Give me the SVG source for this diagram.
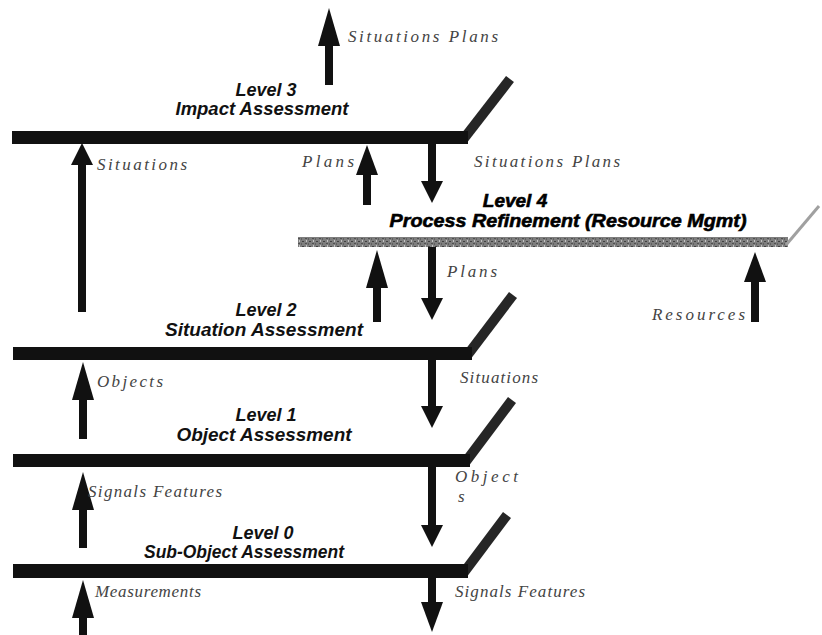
<svg xmlns="http://www.w3.org/2000/svg" width="822" height="635" viewBox="0 0 822 635">
<style>
  .bar { fill: #111; }
  .diag { stroke: #262626; stroke-width: 10; fill: none; }
  .lvl { font-family: "Liberation Sans", Arial, sans-serif; font-weight: bold; font-style: italic; font-size: 18px; fill: #111; text-anchor: middle; }
  .lvl4 { font-family: "Liberation Sans", Arial, sans-serif; font-weight: bold; font-style: italic; font-size: 19px; fill: #000; stroke: #000; stroke-width: 0.6; text-anchor: middle; }
  .lbl { font-family: "Liberation Serif", "Times New Roman", serif; font-style: italic; font-size: 17px; fill: #444; }
  .shaft { stroke: #111; stroke-width: 8; fill: none; }
</style>
<defs>
  <marker id="headS" markerUnits="userSpaceOnUse" markerWidth="22" markerHeight="22" refX="0" refY="11" orient="auto" viewBox="0 0 22 22">
    <path d="M0,0 L22,11 L0,22 z" fill="#111"/>
  </marker>
  <marker id="headM" markerUnits="userSpaceOnUse" markerWidth="30" markerHeight="22" refX="0" refY="11" orient="auto" viewBox="0 0 30 22">
    <path d="M0,0 L30,11 L0,22 z" fill="#111"/>
  </marker>
  <marker id="headL" markerUnits="userSpaceOnUse" markerWidth="38" markerHeight="22" refX="0" refY="11" orient="auto" viewBox="0 0 38 22">
    <path d="M0,0 L38,11 L0,22 z" fill="#111"/>
  </marker>
  <pattern id="grain" width="7" height="5" patternUnits="userSpaceOnUse">
    <rect width="7" height="5" fill="#7e7e7e"/>
    <rect x="1" y="1" width="2" height="1" fill="#404040"/>
    <rect x="4" y="3" width="2" height="1" fill="#505050"/>
    <rect x="5" y="0" width="1" height="2" fill="#c4c4c4"/>
    <rect x="0" y="3" width="1" height="2" fill="#606060"/>
  </pattern>
</defs>

<g id="level3">
  <line class="diag" x1="462" y1="141" x2="510" y2="79"/>
  <rect class="bar" x="12" y="131" width="456" height="13"/>
  <text class="lvl" x="266" y="96">Level 3</text>
  <text class="lvl" x="262" y="115" textLength="173" lengthAdjust="spacingAndGlyphs">Impact Assessment</text>
</g>

<g id="level4">
  <rect x="298" y="237" width="490" height="10" fill="url(#grain)"/>
  <line x1="786" y1="245" x2="819" y2="206" stroke="#a0a0a0" stroke-width="3"/>
  <text class="lvl4" x="515" y="207">Level 4</text>
  <text class="lvl4" x="568" y="227" textLength="357" lengthAdjust="spacingAndGlyphs">Process Refinement (Resource Mgmt)</text>
</g>

<g id="level2">
  <line class="diag" x1="466" y1="357" x2="513" y2="295"/>
  <rect class="bar" x="13" y="347" width="459" height="13"/>
  <text class="lvl" x="266" y="316">Level 2</text>
  <text class="lvl" x="264" y="336" textLength="198" lengthAdjust="spacingAndGlyphs">Situation Assessment</text>
</g>

<g id="level1">
  <line class="diag" x1="464" y1="464" x2="512" y2="400"/>
  <rect class="bar" x="13" y="454" width="457" height="13"/>
  <text class="lvl" x="266" y="421">Level 1</text>
  <text class="lvl" x="264" y="441" textLength="175" lengthAdjust="spacingAndGlyphs">Object Assessment</text>
</g>

<g id="level0">
  <line class="diag" x1="462" y1="575" x2="507" y2="515"/>
  <rect class="bar" x="13" y="564" width="455" height="14"/>
  <text class="lvl" x="263" y="539">Level 0</text>
  <text class="lvl" x="244" y="558" textLength="200" lengthAdjust="spacingAndGlyphs">Sub-Object Assessment</text>
</g>

<g id="connectors">
  <line class="shaft" x1="329" y1="85" x2="329" y2="46" marker-end="url(#headL)"/>
  <line class="shaft" x1="82" y1="312" x2="82" y2="165" marker-end="url(#headS)"/>
  <line class="shaft" x1="367" y1="205" x2="367" y2="175" marker-end="url(#headM)"/>
  <line class="shaft" x1="432" y1="144" x2="432" y2="181" marker-end="url(#headS)"/>
  <line class="shaft" x1="377" y1="322" x2="377" y2="288" marker-end="url(#headL)"/>
  <line class="shaft" x1="432" y1="247" x2="432" y2="298" marker-end="url(#headS)"/>
  <line class="shaft" x1="755" y1="322" x2="755" y2="282" marker-end="url(#headM)"/>
  <line class="shaft" x1="83" y1="439" x2="83" y2="400" marker-end="url(#headL)"/>
  <line class="shaft" x1="432" y1="360" x2="432" y2="406" marker-end="url(#headS)"/>
  <line class="shaft" x1="83" y1="548" x2="83" y2="510" marker-end="url(#headL)"/>
  <line class="shaft" x1="432" y1="467" x2="432" y2="525" marker-end="url(#headS)"/>
  <line class="shaft" x1="83" y1="635" x2="83" y2="618" marker-end="url(#headL)"/>
  <line class="shaft" x1="432" y1="578" x2="432" y2="602" marker-end="url(#headM)"/>

  <text class="lbl" x="348" y="42" textLength="150">Situations Plans</text>
  <text class="lbl" x="97" y="170" textLength="90">Situations</text>
  <text class="lbl" x="302" y="167" textLength="52">Plans</text>
  <text class="lbl" x="474" y="167" textLength="146">Situations Plans</text>
  <text class="lbl" x="447" y="277" textLength="50">Plans</text>
  <text class="lbl" x="652" y="320" textLength="93">Resources</text>
  <text class="lbl" x="97" y="387" textLength="66">Objects</text>
  <text class="lbl" x="460" y="383" textLength="78">Situations</text>
  <text class="lbl" x="455" y="482" textLength="63">Object</text>
  <text class="lbl" x="458" y="502">s</text>
  <text class="lbl" x="88" y="497" textLength="134">Signals Features</text>
  <text class="lbl" x="95" y="597" textLength="106">Measurements</text>
  <text class="lbl" x="455" y="597" textLength="130">Signals Features</text>
</g>
</svg>
